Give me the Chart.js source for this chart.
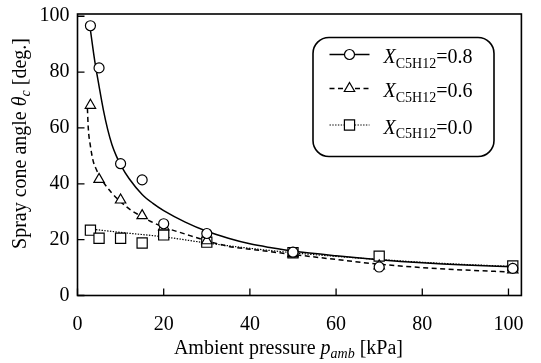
<!DOCTYPE html>
<html><head><meta charset="utf-8">
<script src="https://cdn.jsdelivr.net/npm/chart.js@4.4.0/dist/chart.umd.min.js"></script>
<style>html,body{margin:0;padding:0;background:#fff;}#wrap{width:541px;height:363px;position:relative;}</style>
</head><body><div id="wrap"><canvas id="c" width="541" height="363"></canvas></div>
<script>
// ---- data ----
const PRESSURE = [3, 5, 10, 15, 20, 30, 50, 70, 101];
const ANGLE_08 = [96.6, 81.5, 47.2, 41.4, 25.7, 22.2, 15.5, 10.2, 9.7];
const ANGLE_06 = [68.1, 41.6, 34.2, 28.6, 24.6, 19.6, 15.0, 10.6, 9.2];
const ANGLE_00 = [23.4, 20.5, 20.5, 18.8, 21.7, 19.1, 15.3, 14.1, 10.6];

const FIT08_X = [3, 4, 5, 6, 7, 8, 9, 10, 12, 15, 17.5, 20, 25, 30, 35, 40, 45, 50, 60, 70, 80, 90, 101];
const FIT08_Y = [95, 84, 75, 66.5, 59.5, 54, 50, 46.8, 41.8, 36.2, 33, 30.4, 26.3, 23, 20.5, 18.5, 17.1, 15.9, 14.2, 12.8, 11.7, 10.9, 10.3];
const FIT06_X = [2.3, 2.5, 3, 3.6, 4.4, 5.2, 6.5, 7.9, 9.8, 12, 14.4, 17, 19.8, 25, 30, 35, 40, 50, 60, 70, 80, 90, 101];
const FIT06_Y = [67, 60, 53.5, 48.4, 45, 42.6, 39.5, 36.8, 33.9, 31, 28.7, 26.5, 24.6, 22, 19.6, 17.6, 16.6, 14.7, 12.9, 11.2, 10.0, 9.1, 8.4];
const FIT00_X = [3, 10, 20, 30, 40, 50, 60, 70, 80, 90, 101];
const FIT00_Y = [23.8, 22.6, 21.0, 18.8, 16.9, 15.3, 14.0, 12.9, 11.9, 11.1, 10.4];

const X_TICKS = [0, 20, 40, 60, 80, 100];
const Y_TICKS = [0, 20, 40, 60, 80, 100];
const SERIES_VALUES = ['0.8', '0.6', '0.0'];

// ---- styling ----
const FONT = '"Liberation Serif", "Times New Roman", serif';
const STYLES = [
  {marker: 'circle', radius: 5, dash: [], lw: 1.5},
  {marker: 'triangle', radius: 6, dash: [5, 3.5], lw: 1.5},
  {marker: 'rect', radius: 7.2, dash: [1.4, 1.4], lw: 1.2}
];
const pts = (xs, ys) => xs.map((x, i) => ({x: x, y: ys[i]}));

const markerDS = (vals, st) => ({
  data: pts(PRESSURE, vals), showLine: false, pointStyle: st.marker,
  pointRadius: st.radius, pointHoverRadius: st.radius,
  pointBackgroundColor: '#fff', pointBorderColor: '#000', pointBorderWidth: 1.2, order: 0
});
const fitDS = (xs, ys, st) => ({
  data: pts(xs, ys), showLine: true, borderColor: '#000', borderWidth: st.lw,
  borderDash: st.dash, pointRadius: 0, pointHoverRadius: 0,
  cubicInterpolationMode: 'monotone', fill: false, order: 1
});

function drawRich(ctx, parts, x, y, align) {
  let total = 0;
  parts.forEach(p => { ctx.font = (p[2] ? 'italic ' : '') + p[1] + 'px ' + FONT; p.w = ctx.measureText(p[0]).width; total += p.w; });
  let cx = align === 'center' ? x - total / 2 : x;
  parts.forEach(p => {
    ctx.font = (p[2] ? 'italic ' : '') + p[1] + 'px ' + FONT;
    ctx.fillText(p[0], cx, y + (p[3] || 0));
    cx += p.w;
  });
}

const decor = {
  id: 'decor',
  afterDraw(chart) {
    const ctx = chart.ctx, ca = chart.chartArea;
    const xs = chart.scales.x, ys = chart.scales.y;
    ctx.save();
    ctx.strokeStyle = '#000'; ctx.fillStyle = '#000';
    ctx.lineWidth = 1.6;
    ctx.strokeRect(ca.left, ca.top, ca.right - ca.left, ca.bottom - ca.top);
    ctx.lineWidth = 1.3;
    ctx.beginPath();
    xs.ticks.forEach(t => { const px = xs.getPixelForValue(t.value); ctx.moveTo(px, ca.bottom); ctx.lineTo(px, ca.bottom - 7); });
    ys.ticks.forEach(t => { const py = ys.getPixelForValue(t.value); ctx.moveTo(ca.left, py); ctx.lineTo(ca.left + 7, py); });
    ctx.stroke();
    const bx = ca.left + 235.5, by = ca.top + 23.5, bw = 181, bh = 119;
    ctx.lineWidth = 1.6;
    ctx.beginPath(); ctx.roundRect(bx, by, bw, bh, 16); ctx.fillStyle = '#fff'; ctx.fill(); ctx.stroke();
    const rowY = [54.5, 88.5, 125];
    ctx.textBaseline = 'alphabetic'; ctx.textAlign = 'left';
    SERIES_VALUES.forEach((v, i) => {
      const st = STYLES[i], y = rowY[i];
      ctx.strokeStyle = '#000'; ctx.lineWidth = st.lw; ctx.setLineDash(st.dash);
      ctx.beginPath(); ctx.moveTo(bx + 16.5, y); ctx.lineTo(bx + 56.5, y); ctx.stroke();
      ctx.setLineDash([]);
      ctx.fillStyle = '#fff'; ctx.strokeStyle = '#000'; ctx.lineWidth = 1.2;
      Chart.helpers.drawPoint(ctx, {pointStyle: st.marker, radius: st.radius, rotation: 0, borderWidth: 1.2}, bx + 36.5, y);
      ctx.fillStyle = '#000';
      drawRich(ctx, [['X', 20, true, 0], ['C5H12', 14, false, 4.5], ['=' + v, 20, false, 0]], bx + 70.5, y + 8.5, 'left');
    });
    ctx.fillStyle = '#000';
    drawRich(ctx, [['Ambient pressure ', 20, false, 0], ['p', 20, true, 0], ['amb', 14, true, 4], [' [kPa]', 20, false, 0]],
      (ca.left + ca.right) / 2 - 11, 354, 'center');
    ctx.save();
    ctx.translate(26, 143.5);
    ctx.rotate(-Math.PI / 2);
    drawRich(ctx, [['Spray cone angle ', 20, false, 0], ['\u03B8', 20, true, 0], ['c', 14, true, 4], [' [deg.]', 20, false, 0]], 0, 0, 'center');
    ctx.restore();
    ctx.restore();
  }
};

new Chart(document.getElementById('c'), {
  type: 'scatter',
  data: {
    datasets: [
      markerDS(ANGLE_08, STYLES[0]),
      markerDS(ANGLE_06, STYLES[1]),
      markerDS(ANGLE_00, STYLES[2]),
      fitDS(FIT08_X, FIT08_Y, STYLES[0]),
      fitDS(FIT06_X, FIT06_Y, STYLES[1]),
      fitDS(FIT00_X, FIT00_Y, STYLES[2])
    ]
  },
  options: {
    responsive: false, animation: false, devicePixelRatio: 1,
    layout: {padding: {left: 0, top: 6, right: 18, bottom: 0}},
    plugins: {legend: {display: false}, tooltip: {enabled: false}},
    scales: {
      x: {
        type: 'linear', min: 0, max: 103,
        afterBuildTicks: s => { s.ticks = X_TICKS.map(v => ({value: v})); },
        afterFit: s => { s.height = 67.5; },
        grid: {display: false, drawTicks: false}, border: {display: false},
        ticks: {font: {family: FONT, size: 20}, color: '#000', padding: 17, maxRotation: 0, autoSkip: false}
      },
      y: {
        type: 'linear', min: 0, max: 100.8,
        afterBuildTicks: s => { s.ticks = Y_TICKS.map(v => ({value: v})); },
        afterFit: s => { s.width = 77.5; },
        grid: {display: false, drawTicks: false}, border: {display: false},
        ticks: {font: {family: FONT, size: 20, lineHeight: 0.6}, color: '#000', padding: 8, autoSkip: false}
      }
    }
  },
  plugins: [decor]
});
</script></body></html>
